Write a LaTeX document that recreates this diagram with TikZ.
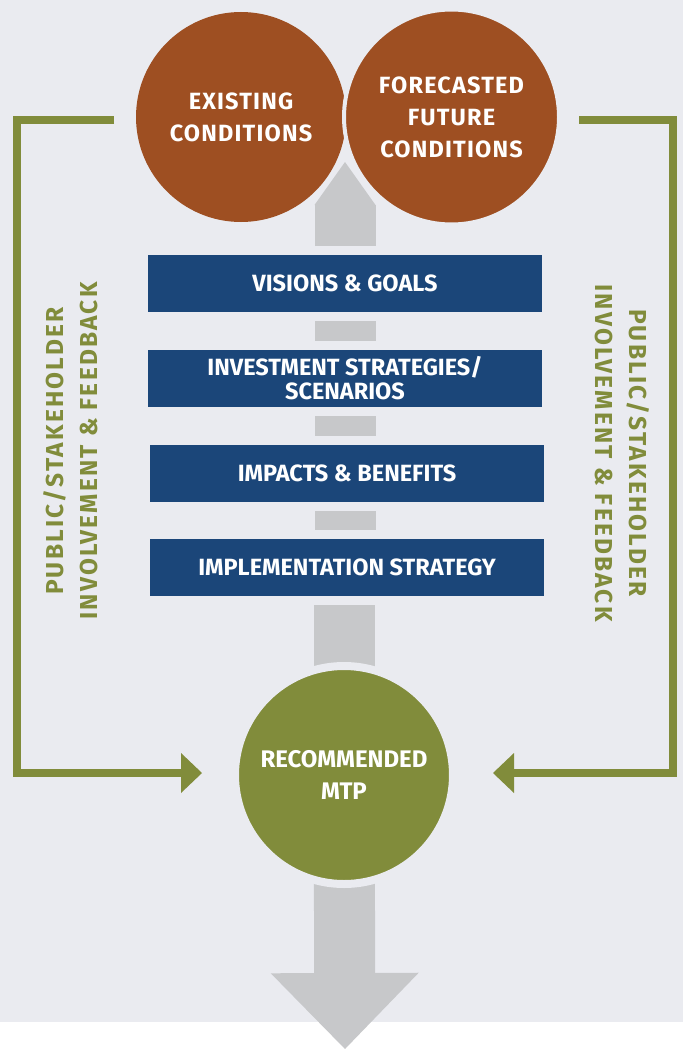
\documentclass[tikz,border=0pt]{standalone}
\usepackage{fontspec}
\setmainfont{Fira Sans}
\newfontfamily\roundfont{Fira Sans}[LetterSpace=5]
\newfontfamily\sidefont{Fira Sans}[LetterSpace=9]
\usetikzlibrary {positioning,
                 arrows.meta}
\definecolor{pagebg}{HTML}{EAEBF0}
\definecolor{rust}{HTML}{9E4F22}
\definecolor{navy}{HTML}{1B4679}
\definecolor{olive}{HTML}{818C3B}
\definecolor{bargray}{HTML}{C7C8CA}
\pgfdeclarelayer{back}
\pgfdeclarelayer{mid}
\pgfsetlayers{back,mid,main}
\tikzset{
         stepbox/.style={fill=navy, minimum width=394pt, minimum height=57pt,
                         inner sep=0pt, outer sep=0pt, text=white, align=center,
                         font=\bfseries\fontsize{23.5}{24}\selectfont},
         roundnode/.style={circle, inner sep=0pt, text=white, align=center,
                           font=\roundfont\bfseries\fontsize{23.5}{32}\selectfont},
         sidetext/.style={text=olive, align=center,
                          font=\sidefont\bfseries\fontsize{24.5}{34}\selectfont},
         bar/.style={bargray, line width=61pt, shorten <=9pt, shorten >=9pt},
         fbline/.style={olive, line width=8pt,
                        -{Triangle[width=40pt, length=21pt, line width=0pt]}},
}

\begin{document}
\begin{tikzpicture}[x=1pt, y=-1pt]
    \useasboundingbox (0,0) rectangle (683,1049);
    \begin{pgfonlayer}{back}
    \fill[white] (0,0) rectangle (683,1049);
    \fill[pagebg] (0,0) rectangle (683,1022);
    \end{pgfonlayer}

    % Ausgangslage
    \node[roundnode, fill=rust, minimum size=210pt, outer sep=0pt]
        (existing) at (241,117) {EXISTING\\CONDITIONS};
    \node[roundnode, fill=rust, draw=pagebg, line width=4pt, minimum size=215pt]
        (forecast) at (451.5,117) {FORECASTED\\FUTURE\\CONDITIONS};

    % Schritte
    \node[stepbox] (vision) at (345,283.5) {VISIONS \& GOALS};
    \node[stepbox, below=38pt of vision] (invest) {INVESTMENT STRATEGIES/\\SCENARIOS};
    \node[stepbox, below=38pt of invest, xshift=2pt] (impacts) {IMPACTS \& BENEFITS};
    \node[stepbox, below=37pt of impacts] (implement) {IMPLEMENTATION STRATEGY};

    % Ergebnis
    \node[roundnode, fill=olive, draw=pagebg, line width=8pt, minimum size=218pt,
          font=\bfseries\fontsize{24}{32}\selectfont]
        (mtp) at (344,775) {RECOMMENDED\\MTP};

    % Beteiligung
    \node[sidetext, rotate=90] (fbleft) at (71,451)
        {PUBLIC/STAKEHOLDER\\INVOLVEMENT \& FEEDBACK};
    \node[sidetext, rotate=-90] (fbright) at (622.5,453)
        {PUBLIC/STAKEHOLDER\\INVOLVEMENT \& FEEDBACK};

    \coordinate (uptip) at (345,162);
    \coordinate (downtip) at (345,1049);

    \begin{pgfonlayer}{mid}
    \draw[bar, shorten >=0pt,
          -{Triangle[width=61pt, length=43pt, line width=0pt]}] (vision) -- (uptip);
    \draw[bar] (vision) -- (invest);
    \draw[bar] (invest.south) -- (invest.south |- impacts.north);
    \draw[bar] (impacts.south -| vision) -- (implement.north -| vision);
    \draw[bar, shorten >=0pt] (implement.south -| mtp) -- (mtp.center);
    \draw[bar, shorten <=0pt, shorten >=0pt,
          -{Triangle[width=148pt, length=76pt, line width=0pt]}] (mtp.center) -- (downtip);
    \end{pgfonlayer}

    \draw[fbline, shorten <=22pt, shorten >=29pt]
        ([yshift=-3pt]existing.west) -- ++(-119pt,0) |- ([yshift=2pt]mtp.west);
    \draw[fbline, shorten <=18pt, shorten >=36pt]
        ([yshift=-3pt]forecast.east) -- ++(112pt,0) |- ([yshift=2pt]mtp.east);
\end{tikzpicture}
\end{document}
